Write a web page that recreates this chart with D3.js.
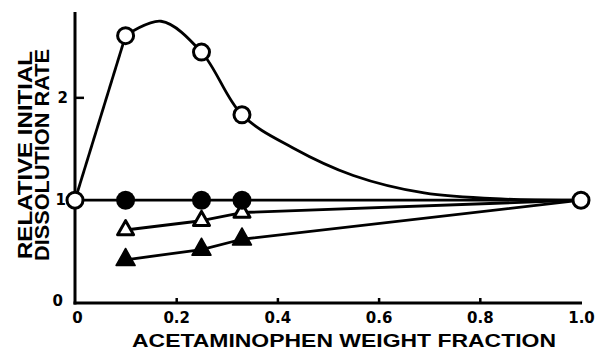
<!DOCTYPE html>
<html>
<head>
<meta charset="utf-8">
<script src="https://cdn.jsdelivr.net/npm/d3@7"></script>
<style>
  html, body { margin: 0; padding: 0; background: #fff; }
  svg { display: block; }
  text { fill: #000; }
</style>
</head>
<body>
<div id="chart"></div>
<script>
// Acetaminophen weight fraction in the mixture
const pureX = [0, 1.0];
const pureY = [1.0, 1.0];
const mixX = [0.1, 0.25, 0.33];

// Relative initial dissolution rate, per series
const openCircleY = [2.60, 2.44, 1.83];
const filledCircleY = [1.0, 1.0, 1.0];
const openTriangleY = [0.71, 0.80, 0.88];
const filledTriangleY = [0.42, 0.52, 0.62];

// Smooth fitted curve through the open-circle series
const fitX = [0.1, 0.17, 0.25, 0.33, 0.43, 0.55, 0.69, 0.85, 1.0];
const fitY = [2.60, 2.74, 2.44, 1.83, 1.51, 1.24, 1.07, 1.01, 1.0];

// Axis ticks
const xTicks = [0, 0.2, 0.4, 0.6, 0.8, 1.0];
const xTickLabels = ["0", "0.2", "0.4", "0.6", "0.8", "1.0"];
const yTicks = [0, 1, 2];
const yTickLabels = ["0", "1", "2"];

const xTitle = "ACETAMINOPHEN WEIGHT FRACTION";
const yTitleLines = ["RELATIVE INITIAL", "DISSOLUTION RATE"];

const W = 600, H = 350;
const svg = d3.select("#chart").append("svg")
  .attr("width", W).attr("height", H);

const x = d3.scaleLinear().domain([0, 1]).range([75, 581]);
const y = d3.scaleLinear().domain([0, 2.83]).range([303, 12]);

const tickFont = "'DejaVu Sans', sans-serif";
const titleFont = "'Liberation Sans', Arial, sans-serif";

// X axis
const xAxis = d3.axisBottom(x)
  .tickValues(xTicks)
  .tickFormat((d, i) => xTickLabels[i])
  .tickSize(-5)
  .tickPadding(9);
const gx = svg.append("g").attr("transform", `translate(0,${y(0)})`).call(xAxis);
gx.select(".domain").remove();
gx.selectAll(".tick line").attr("stroke", "#000").attr("stroke-width", 2.5)
  .attr("display", d => (d === 0 || d === 1) ? "none" : null);
gx.selectAll(".tick text")
  .attr("font-family", tickFont).attr("font-weight", "bold")
  .attr("font-size", 15).attr("fill", "#000")
  .attr("dx", d => d === 0 ? 2 : 0);

// Y axis
const yAxis = d3.axisLeft(y)
  .tickValues(yTicks)
  .tickFormat((d, i) => yTickLabels[i])
  .tickSize(-9)
  .tickPadding(7);
const gy = svg.append("g").attr("transform", `translate(${x(0)},0)`).call(yAxis);
gy.select(".domain").remove();
gy.selectAll(".tick line").attr("stroke", "#000").attr("stroke-width", 2.5)
  .attr("display", d => d === 0 ? "none" : null);
gy.selectAll(".tick text")
  .attr("font-family", tickFont).attr("font-weight", "bold")
  .attr("font-size", 15).attr("fill", "#000")
  .attr("dx", d => d === 0 ? -5 : (d === 1 ? -2 : 0))
  .attr("dy", d => d === 0 ? "0.15em" : "0.32em");

// Axis lines
svg.append("line")
  .attr("x1", x(0)).attr("x2", x(0))
  .attr("y1", y(0) + 1.5).attr("y2", 12)
  .attr("stroke", "#000").attr("stroke-width", 3);
svg.append("line")
  .attr("x1", x(0) - 1.5).attr("x2", x(1) + 1)
  .attr("y1", y(0)).attr("y2", y(0))
  .attr("stroke", "#000").attr("stroke-width", 3);

// Axis titles
svg.append("text")
  .attr("x", 344).attr("y", 347)
  .attr("text-anchor", "middle")
  .attr("font-family", titleFont)
  .attr("font-weight", "bold").attr("font-size", 19)
  .attr("textLength", 424).attr("lengthAdjust", "spacingAndGlyphs")
  .text(xTitle);

const yTitleCenters = [[32, 155], [49, 155]];
const yTitleLengths = [208, 212];
yTitleLines.forEach((t, i) => {
  const [cx, cy] = yTitleCenters[i];
  svg.append("text")
    .attr("transform", `translate(${cx},${cy}) rotate(-90)`)
    .attr("text-anchor", "middle")
    .attr("font-family", titleFont)
    .attr("font-weight", "bold").attr("font-size", 21)
    .attr("textLength", yTitleLengths[i]).attr("lengthAdjust", "spacingAndGlyphs")
    .text(t);
});

// Lines
const lineGen = d3.line().x(d => x(d[0])).y(d => y(d[1]));
const plot = svg.append("g").attr("fill", "none").attr("stroke", "#000")
  .attr("stroke-width", 2.8).attr("stroke-linejoin", "round");

// Filled circles: flat line across the whole range
plot.append("path").attr("d", lineGen([[pureX[0], pureY[0]], [pureX[1], pureY[1]]]));

// Triangles: straight segments through the points to the pure drug point
[openTriangleY, filledTriangleY].forEach(vals => {
  const pts = mixX.map((xv, i) => [xv, vals[i]]);
  pts.push([pureX[1], pureY[1]]);
  plot.append("path").attr("d", lineGen(pts));
});

// Open circles: straight rise then fitted smooth curve
plot.append("path").attr("d", lineGen([[pureX[0], pureY[0]], [mixX[0], openCircleY[0]]]));
plot.append("path").attr("d",
  d3.line().curve(d3.curveCatmullRom.alpha(0.5))
    .x(d => x(d[0])).y(d => y(d[1]))(fitX.map((xv, i) => [xv, fitY[i]])));

// Markers
function triPath(w, h) {
  return `M0,${-h * 2 / 3}L${w / 2},${h / 3}L${-w / 2},${h / 3}Z`;
}

const marks = svg.append("g");

// Open triangles
marks.selectAll(".otri").data(mixX.map((xv, i) => [xv, openTriangleY[i]]))
  .enter().append("path")
  .attr("transform", d => `translate(${x(d[0])},${y(d[1])})`)
  .attr("d", triPath(16, 14))
  .attr("fill", "#fff").attr("stroke", "#000").attr("stroke-width", 3)
  .attr("stroke-linejoin", "round");

// Filled triangles
marks.selectAll(".ftri").data(mixX.map((xv, i) => [xv, filledTriangleY[i]]))
  .enter().append("path")
  .attr("transform", d => `translate(${x(d[0])},${y(d[1])})`)
  .attr("d", triPath(19, 17))
  .attr("fill", "#000").attr("stroke", "#000").attr("stroke-width", 1.5)
  .attr("stroke-linejoin", "round");

// Filled circles
marks.selectAll(".fcirc").data(mixX.map((xv, i) => [xv, filledCircleY[i]]))
  .enter().append("circle")
  .attr("cx", d => x(d[0])).attr("cy", d => y(d[1])).attr("r", 9.5)
  .attr("fill", "#000");

// Open circles
const openPts = [[pureX[0], pureY[0]]]
  .concat(mixX.map((xv, i) => [xv, openCircleY[i]]))
  .concat([[pureX[1], pureY[1]]]);
marks.selectAll(".ocirc").data(openPts)
  .enter().append("circle")
  .attr("cx", d => x(d[0])).attr("cy", d => y(d[1])).attr("r", 8)
  .attr("fill", "#fff").attr("stroke", "#000").attr("stroke-width", 3);
</script>
</body>
</html>
